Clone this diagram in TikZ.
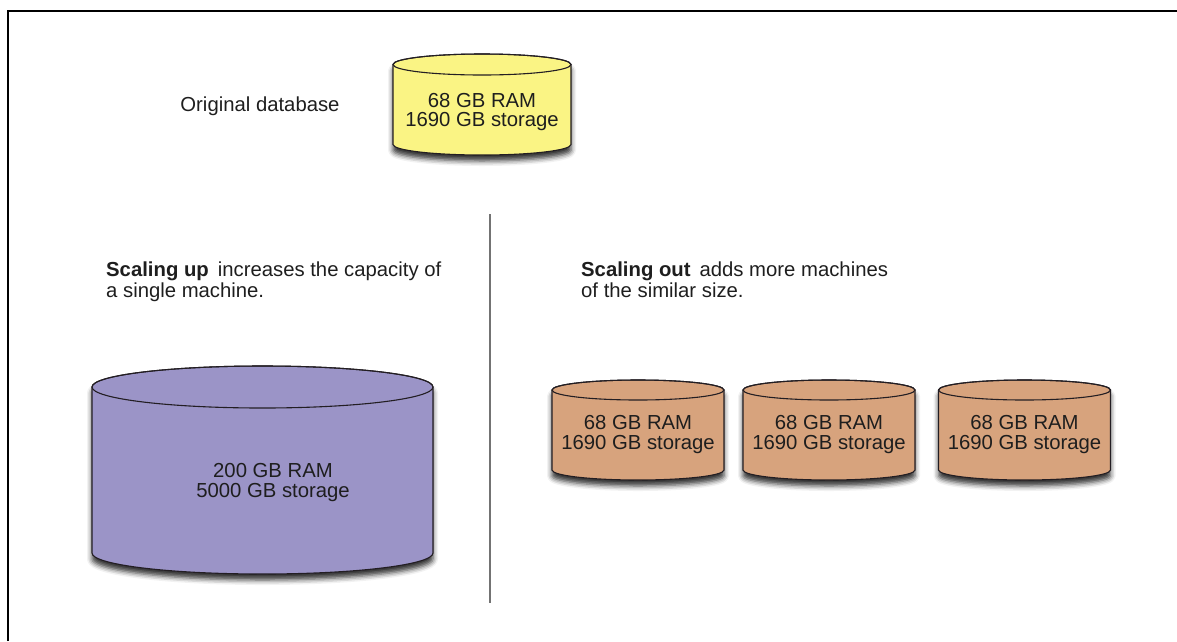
\documentclass[tikz,border=0pt]{standalone}
\usepackage{fontspec}
\setmainfont{Liberation Sans}
\usetikzlibrary{shadows.blur}

\definecolor{dbyellow}{RGB}{250,244,132}
\definecolor{dbpurple}{RGB}{155,148,199}
\definecolor{dbtan}{RGB}{215,163,125}
\definecolor{inkline}{RGB}{35,30,35}
\definecolor{textink}{RGB}{30,30,30}
\definecolor{divider}{RGB}{115,115,115}

\tikzset{
  x=1pt, y=-1pt,
  drumline/.style={draw=inkline, line width=1.1pt},
  % database drum: #1 x radius, #2 y radius, #3 height, #4 fill colour
  pics/drum/.style n args={4}{code={
    \path[drumline, fill=#4,
          blur shadow={shadow xshift=0pt, shadow yshift=-6pt,
                       shadow blur radius=5pt, shadow opacity=80}]
      (-#1,0) -- (-#1,#3)
      arc[start angle=180, end angle=360, x radius=#1pt, y radius=#2pt]
      -- (#1,0)
      arc[start angle=0, end angle=180, x radius=#1pt, y radius=#2pt]
      -- cycle;
    \draw[drumline] (0,0) ellipse[x radius=#1pt, y radius=#2pt];
  }},
  drumtext/.style={align=center, text=textink, inner sep=0pt,
    font=\fontsize{20.3pt}{19.8pt}\selectfont},
  caption/.style={align=left, text=textink, inner sep=0pt, anchor=north west,
    font=\fontsize{20.3pt}{20.5pt}\selectfont},
  frame/.style={draw=black, line width=1.5pt},
  splitline/.style={draw=divider, line width=1.8pt}
}

\begin{document}
\begin{tikzpicture}
\useasboundingbox (0,0) rectangle (1177,641);

% page frame (top and left edges)
\coordinate (fbl) at (8,641);
\coordinate (ftl) at (8,11);
\coordinate (ftr) at (1177,11);
\draw[frame] (fbl) -- (ftl) -- (ftr);

% original database
\node[drumtext, anchor=center] (origlabel) at (260,106) {Original database};
\pic (orig) at (482,64.5) {drum={89}{10.5}{80}{dbyellow}};
\node[drumtext] (origtext) at (482,112) {68 GB RAM\\1690 GB storage};

% divider between the two strategies
\coordinate (divtop) at (490,214);
\coordinate (divbot) at (490,603);
\draw[splitline] (divtop) -- (divbot);

% scaling up
\node[caption] (upcap) at (106,262)
  {{\bfseries Scaling up}\hspace{9pt}increases the capacity of\\a single machine.};
\pic (big) at (262.5,387) {drum={170.5}{21}{166}{dbpurple}};
\node[drumtext] (bigtext) at (273,482.5) {200 GB RAM\\5000 GB storage};

% scaling out
\node[caption] (outcap) at (581,262)
  {{\bfseries Scaling out}\hspace{9pt}adds more machines\\of the similar size.};
\pic (s1) at (638,390) {drum={86}{10}{80}{dbtan}};
\pic (s2) at (829,390) {drum={86}{10}{80}{dbtan}};
\pic (s3) at (1024.5,390) {drum={86}{10}{80}{dbtan}};
\node[drumtext] (s1text) at (638,434.5) {68 GB RAM\\1690 GB storage};
\node[drumtext] (s2text) at (829,434.5) {68 GB RAM\\1690 GB storage};
\node[drumtext] (s3text) at (1024.5,434.5) {68 GB RAM\\1690 GB storage};
\end{tikzpicture}
\end{document}
